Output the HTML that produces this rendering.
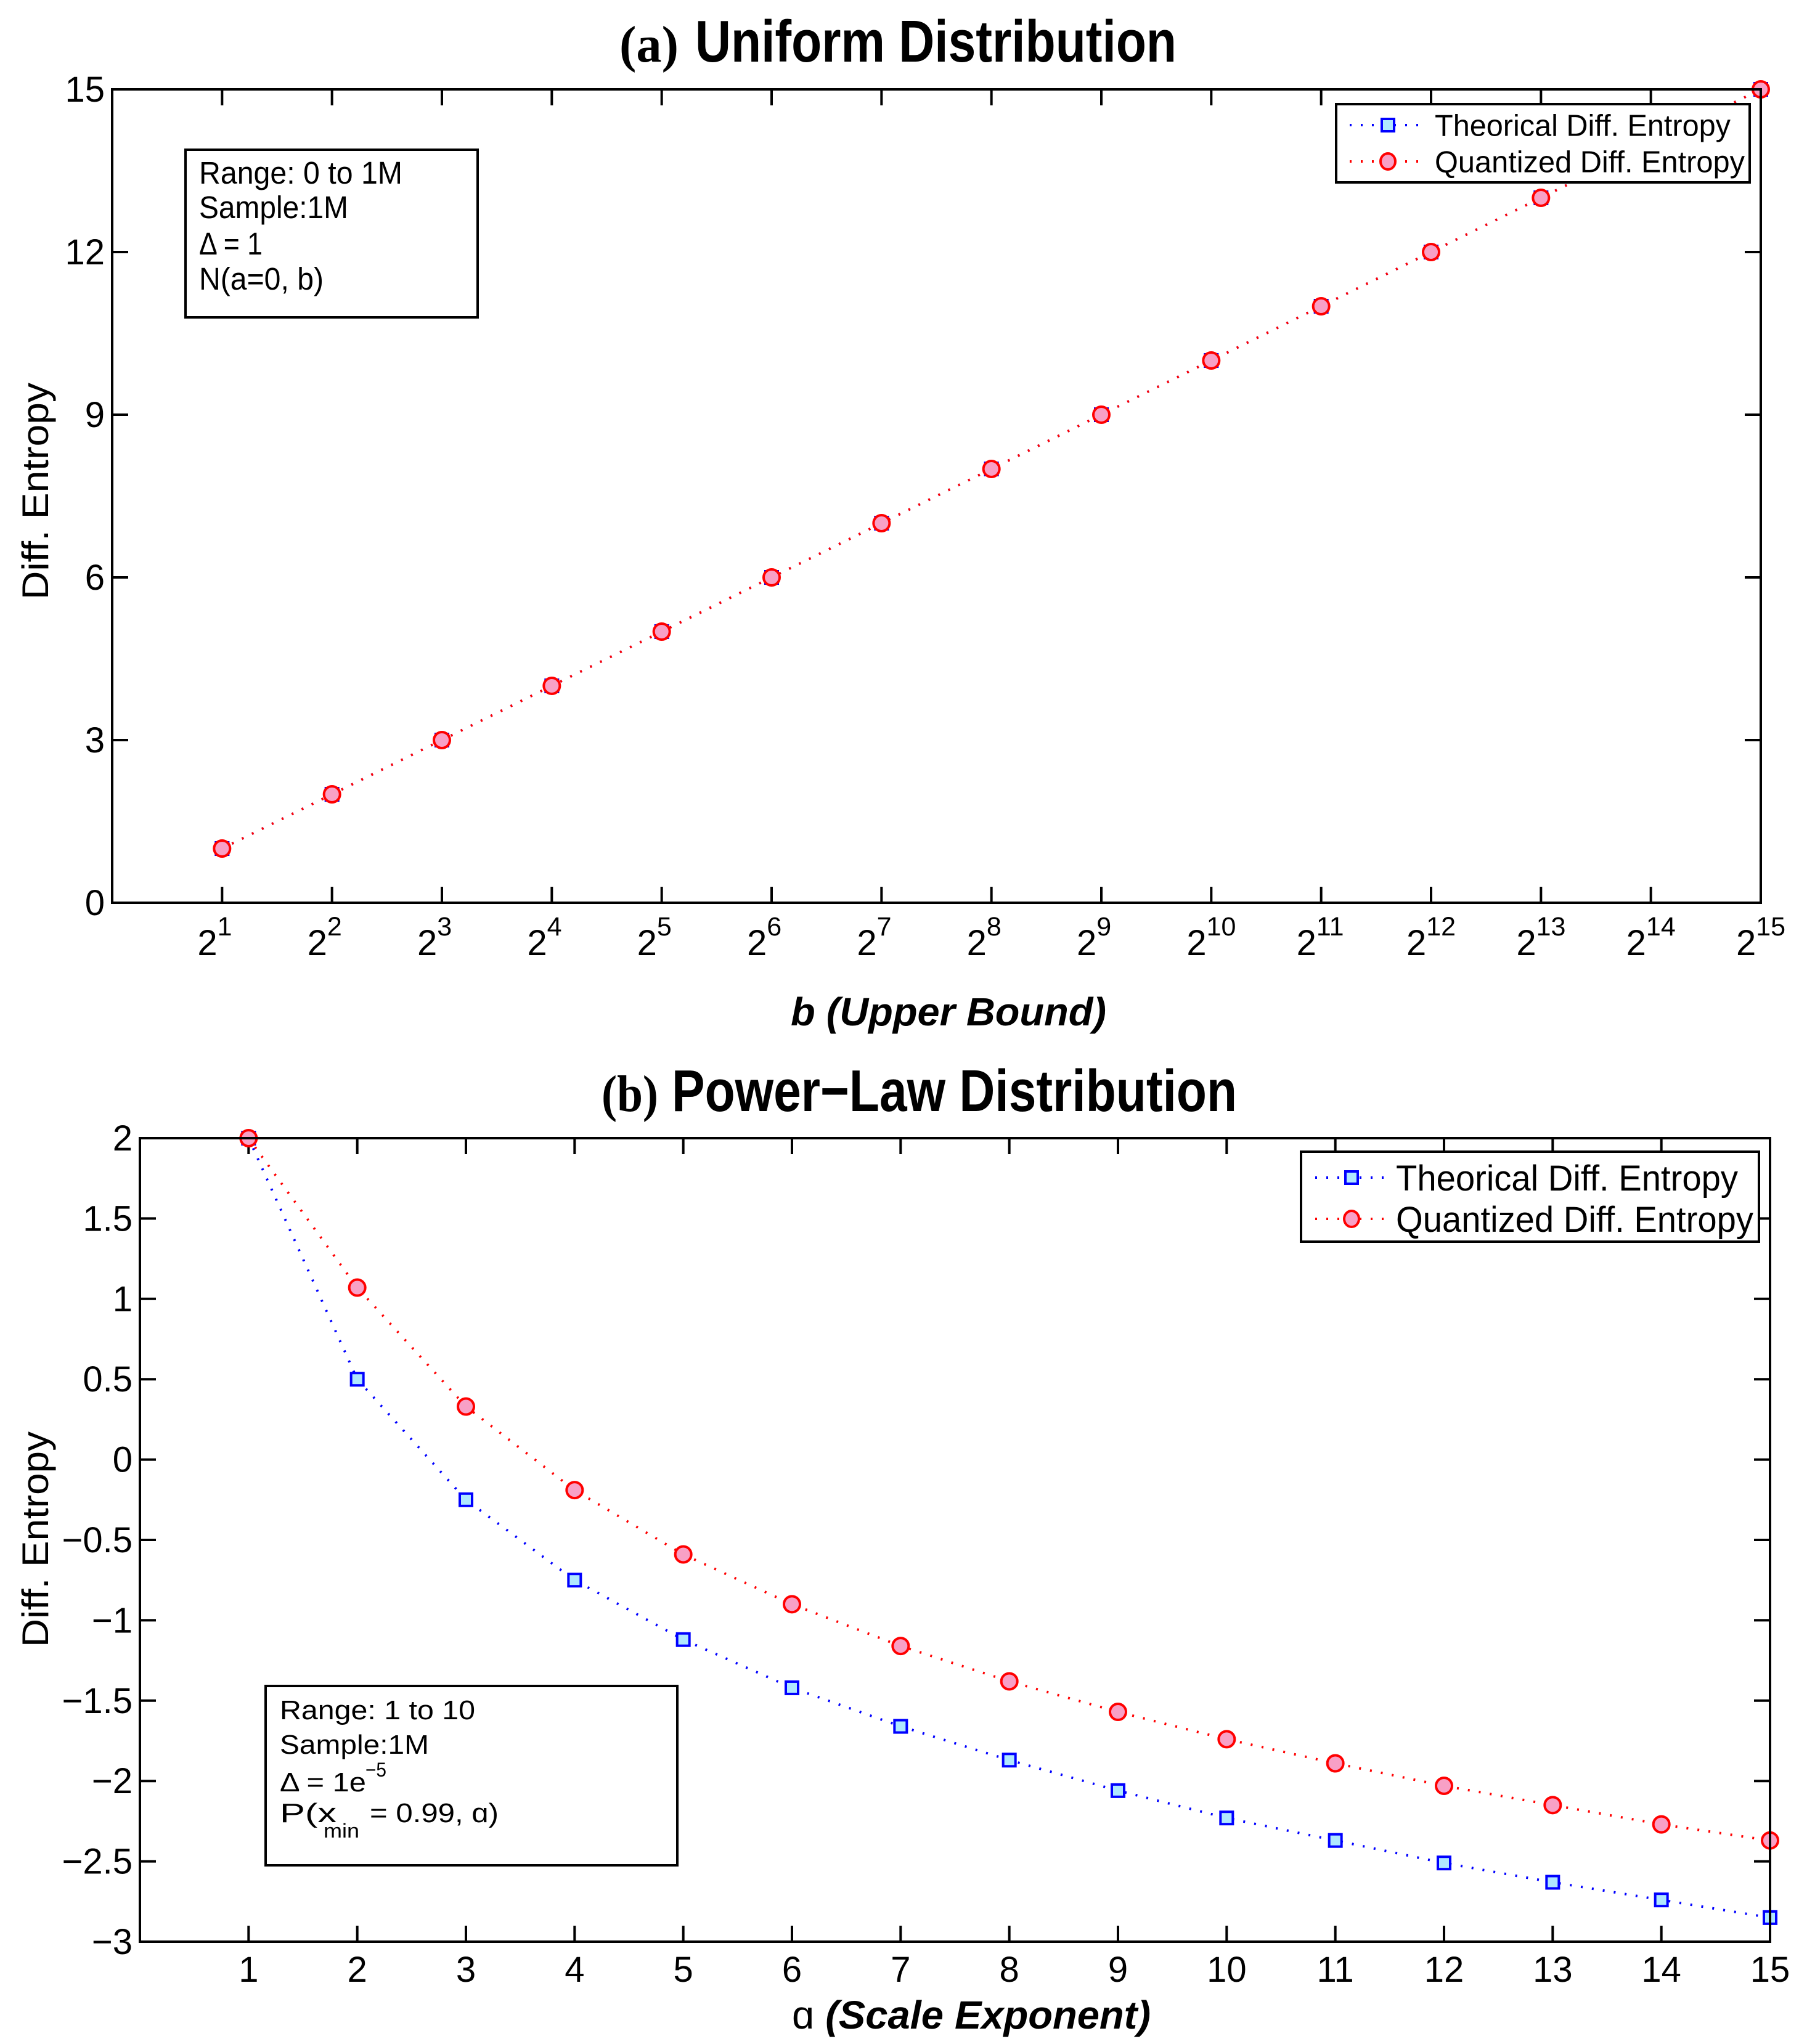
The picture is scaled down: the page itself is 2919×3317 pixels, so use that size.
<!DOCTYPE html>
<html><head><meta charset="utf-8"><style>
html,body{margin:0;padding:0;background:#fff;}
svg{display:block;}
text{font-family:"Liberation Sans",sans-serif;fill:#000;}
</style></head><body>
<svg id="svg" width="2919" height="3317" viewBox="0 0 2919 3317" xmlns="http://www.w3.org/2000/svg">
<rect width="2919" height="3317" fill="#fff"/>
<!-- Titles -->
<text x="1005" y="100" font-size="84" font-weight="bold" textLength="96" lengthAdjust="spacingAndGlyphs" style="font-family:'Liberation Serif',serif">(a)</text>
<text x="1128" y="100" font-size="96" font-weight="bold" textLength="781" lengthAdjust="spacingAndGlyphs">Uniform Distribution</text>
<text x="976" y="1803" font-size="84" font-weight="bold" textLength="92" lengthAdjust="spacingAndGlyphs" style="font-family:'Liberation Serif',serif">(b)</text>
<text x="1090" y="1803" font-size="96" font-weight="bold" textLength="917" lengthAdjust="spacingAndGlyphs">Power−Law Distribution</text>
<!-- axis titles -->
<text x="1283" y="1664" font-size="64" font-weight="bold" font-style="italic" textLength="512" lengthAdjust="spacingAndGlyphs">b (Upper Bound)</text>
<text transform="translate(78,797) rotate(-90)" text-anchor="middle" font-size="60" textLength="352" lengthAdjust="spacingAndGlyphs">Diff. Entropy</text>
<text x="1285" y="3292" font-size="64" textLength="582" lengthAdjust="spacingAndGlyphs"><tspan>ɑ </tspan><tspan font-weight="bold" font-style="italic">(Scale Exponent)</tspan></text>
<text transform="translate(78,2498) rotate(-90)" text-anchor="middle" font-size="60" textLength="350" lengthAdjust="spacingAndGlyphs">Diff. Entropy</text>
<g id="gA"></g>
<g id="gB"></g>
<!-- annotation box a -->
<g>
<rect x="301" y="243" width="474" height="272" fill="#fff" stroke="#000" stroke-width="4"/>
<text x="323" y="298" font-size="51" textLength="330" lengthAdjust="spacingAndGlyphs">Range: 0 to 1M</text>
<text x="323" y="354" font-size="51" textLength="242" lengthAdjust="spacingAndGlyphs">Sample:1M</text>
<text x="323" y="413" font-size="51" textLength="103" lengthAdjust="spacingAndGlyphs">Δ = 1</text>
<text x="323" y="470" font-size="51" textLength="202" lengthAdjust="spacingAndGlyphs">N(a=0, b)</text>
</g>
<!-- annotation box b -->
<g>
<rect x="431" y="2736" width="668" height="291" fill="#fff" stroke="#000" stroke-width="4"/>
<text x="454" y="2790" font-size="44" textLength="317" lengthAdjust="spacingAndGlyphs">Range: 1 to 10</text>
<text x="454" y="2846" font-size="44" textLength="242" lengthAdjust="spacingAndGlyphs">Sample:1M</text>
<text x="454" y="2907" font-size="44" textLength="140" lengthAdjust="spacingAndGlyphs">Δ = 1e</text>
<text x="593" y="2883" font-size="32" textLength="34" lengthAdjust="spacingAndGlyphs">−5</text>
<text x="454" y="2957" font-size="44" textLength="92" lengthAdjust="spacingAndGlyphs">P(x</text>
<text x="525" y="2982" font-size="32" textLength="58" lengthAdjust="spacingAndGlyphs">min</text>
<text x="600" y="2957" font-size="44" textLength="209" lengthAdjust="spacingAndGlyphs">= 0.99, ɑ)</text>
</g>
</svg>
<script>
// ---- data plot (a) ----
const xA = [1,2,3,4,5,6,7,8,9,10,11,12,13,14,15];
const theoA = [1,2,3,4,5,6,7,8,9,10,11,12,13,14,15];
const quantA = [1,2,3,4,5,6,7,8,9,10,11,12,13,14,15];
const yTicksA = [0,3,6,9,12,15];
const xTickExpA = [1,2,3,4,5,6,7,8,9,10,11,12,13,14,15];
// ---- data plot (b) ----
const xB = [1,2,3,4,5,6,7,8,9,10,11,12,13,14,15];
const theoB = [2,0.50,-0.25,-0.75,-1.12,-1.42,-1.66,-1.87,-2.06,-2.23,-2.37,-2.51,-2.63,-2.74,-2.85];
const quantB = [2,1.07,0.33,-0.19,-0.59,-0.90,-1.16,-1.38,-1.57,-1.74,-1.89,-2.03,-2.15,-2.27,-2.37];
const yTicksB = [2,1.5,1,0.5,0,-0.5,-1,-1.5,-2,-2.5,-3];
const yTickLabelsB = ["2","1.5","1","0.5","0","−0.5","−1","−1.5","−2","−2.5","−3"];
const xTicksB = [1,2,3,4,5,6,7,8,9,10,11,12,13,14,15];

const NS = "http://www.w3.org/2000/svg";
function mk(tag, attrs, parent){const e=document.createElementNS(NS,tag);for(const k in attrs)e.setAttribute(k,attrs[k]);parent.appendChild(e);return e;}

function drawPlot(g, box, xmin, xmax, ymin, ymax, xs, theo, quant, yTicks, yLabels, xTicks, xLabelFn, tickFs, legend){
  const sx = v => box.l + (v - xmin) / (xmax - xmin) * (box.r - box.l);
  const sy = v => box.b - (v - ymin) / (ymax - ymin) * (box.b - box.t);
  const TL = 26;
  yTicks.forEach((v,i)=>{
    const y = sy(v);
    const t1 = mk('line',{x1:box.l,y1:y,x2:box.l+TL,y2:y,stroke:'#000','stroke-width':4},g);
    
    
    mk('line',{x1:box.r,y1:y,x2:box.r-TL,y2:y,stroke:'#000','stroke-width':4},g);
    const tx = mk('text',{x:box.l-12,y:y+20,'text-anchor':'end','font-size':tickFs},g);
    tx.textContent = yLabels[i];
    
    
  });
  xTicks.forEach((v,i)=>{
    const x = sx(v);
    const t1 = mk('line',{x1:x,y1:box.b,x2:x,y2:box.b-TL,stroke:'#000','stroke-width':4},g);
    
    
    mk('line',{x1:x,y1:box.t,x2:x,y2:box.t+TL,stroke:'#000','stroke-width':4},g);
    xLabelFn(g, x, i);
  });
  const pathOf = (ys)=>xs.map((x,i)=>(i?'L':'M')+sx(x).toFixed(1)+' '+sy(ys[i]).toFixed(1)).join(' ');
  const lb = mk('path',{d:pathOf(theo),fill:'none',stroke:'#0000ff','stroke-width':4,'stroke-dasharray':'3 15'},g);
  
  
  const lr = mk('path',{d:pathOf(quant),fill:'none',stroke:'#ff0000','stroke-width':4,'stroke-dasharray':'3 15'},g);
  
  
  xs.forEach((x,i)=>{
    const s = mk('rect',{x:sx(x)-10,y:sy(theo[i])-10,width:20,height:20,fill:'#b0e8ff',stroke:'#0000ff','stroke-width':4},g);
    
    
  });
  xs.forEach((x,i)=>{
    const c = mk('circle',{cx:sx(x),cy:sy(quant[i]),r:13,fill:'#f8a0c6',stroke:'#ff0000','stroke-width':4},g);
    
    
  });
  const fr = mk('rect',{x:box.l,y:box.t,width:box.r-box.l,height:box.b-box.t,fill:'none',stroke:'#000','stroke-width':4},g);
  
  
  const L = legend;
  const lg = mk('g',{},g);
  
  
  mk('rect',{x:L.x1,y:L.y1,width:L.x2-L.x1,height:L.y2-L.y1,fill:'#fff',stroke:'#000','stroke-width':4},lg);
  const rows=[{n:'Theorical Diff. Entropy',c:'#0000ff',w:L.w1,sq:true},{n:'Quantized Diff. Entropy',c:'#ff0000',w:L.w2,sq:false}];
  rows.forEach((r,i)=>{
    const cy = L.cy[i];
    const e = mk('g',{},lg);
    
    
    mk('line',{x1:L.lx1,y1:cy,x2:L.lx2,y2:cy,stroke:r.c,'stroke-width':4,'stroke-dasharray':'3 15'},e);
    if(r.sq) mk('rect',{x:L.mx-10,y:cy-10,width:20,height:20,fill:'#b0e8ff',stroke:'#0000ff','stroke-width':4},e);
    else mk('ellipse',{cx:L.mx,cy:cy,rx:12,ry:13,fill:'#f8a0c6',stroke:'#ff0000','stroke-width':4},e);
    const t = mk('text',{x:L.tx,y:cy+L.fs*0.36,'font-size':L.fs,textLength:r.w,lengthAdjust:'spacingAndGlyphs'},e);
    t.textContent = r.n;
  });
}

const gA = document.getElementById('gA');
drawPlot(gA,{l:182,r:2857,t:145,b:1465},0,15,0,15,xA,theoA,quantA,yTicksA,yTicksA.map(String),xTickExpA,
  (g,x,i)=>{
    const t = mk('text',{x:x-40,y:1550,'font-size':58},g);
    
    
    const b = document.createElementNS(NS,'tspan'); b.textContent='2'; t.appendChild(b);
    const s = document.createElementNS(NS,'tspan'); s.setAttribute('font-size','43'); s.setAttribute('dy','-32'); s.textContent=String(xTickExpA[i]); t.appendChild(s);
  },58,
  {x1:2168,x2:2839,y1:169,y2:296,cy:[203,262],lx1:2190,lx2:2303,mx:2252,tx:2328,w1:480,w2:503,fs:49});

const gB = document.getElementById('gB');
drawPlot(gB,{l:227,r:2872,t:1847,b:3151},0,15,-3,2,xB,theoB,quantB,yTicksB,yTickLabelsB,xTicksB,
  (g,x,i)=>{
    const t = mk('text',{x:x,y:3216,'text-anchor':'middle','font-size':58},g);
    
    
    t.textContent = String(xTicksB[i]);
  },58,
  {x1:2111,x2:2854,y1:1869,y2:2015,cy:[1911,1978],lx1:2134,lx2:2255,mx:2193,tx:2265,w1:555,w2:580,fs:58});
</script>
</body></html>
